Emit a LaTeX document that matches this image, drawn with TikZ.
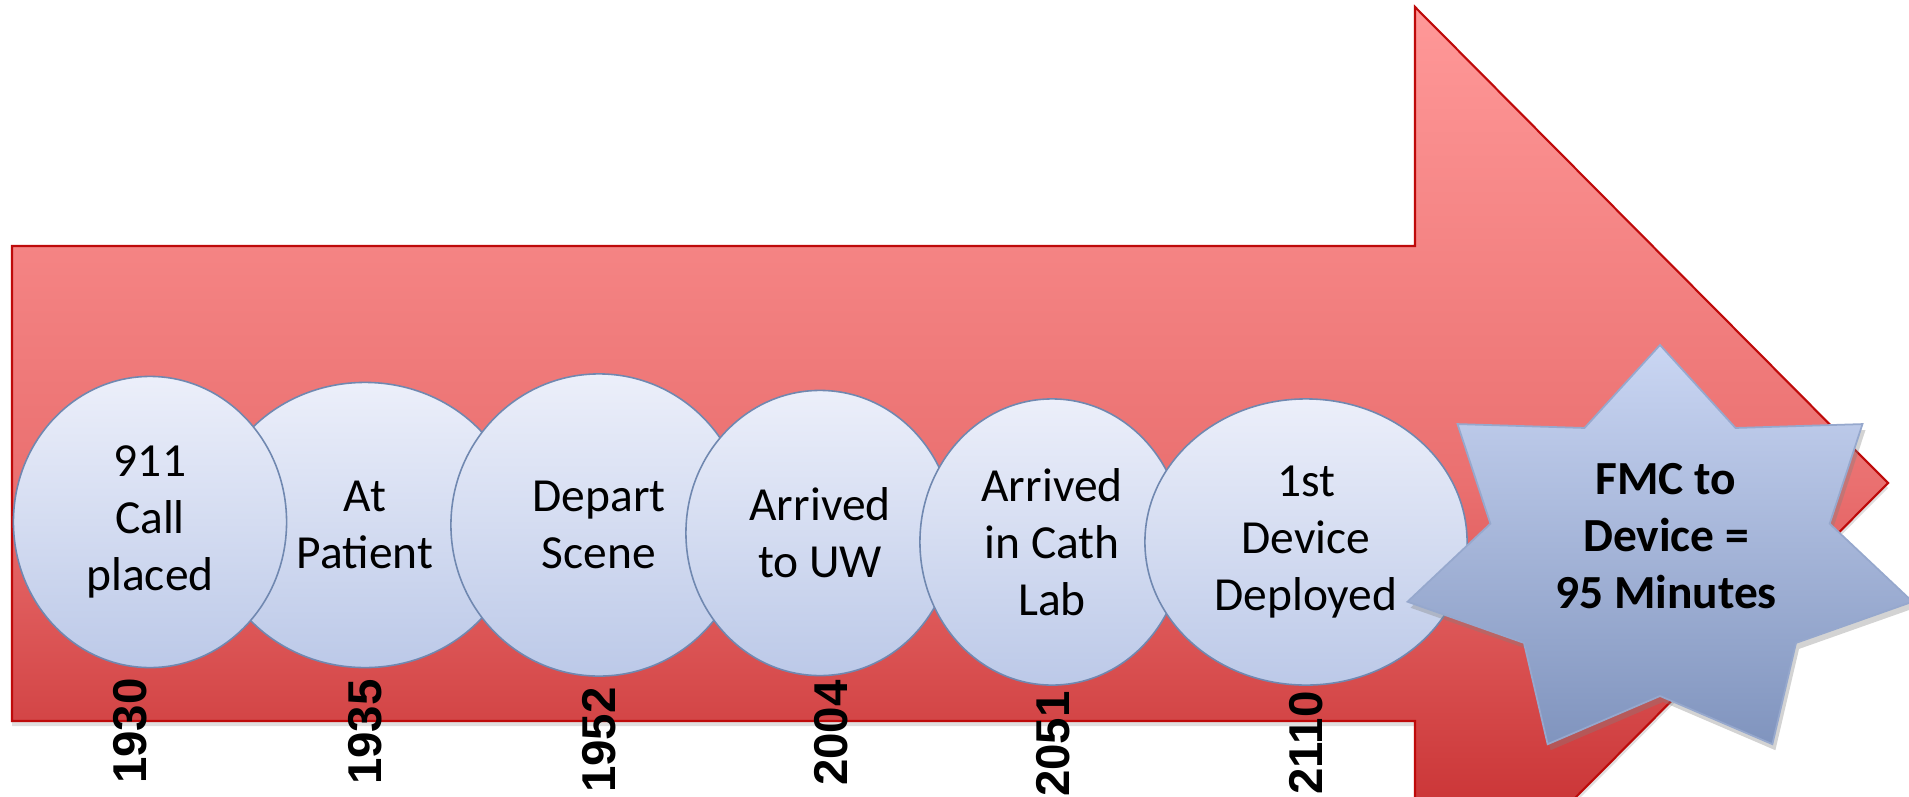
\documentclass[tikz,border=0pt]{standalone}
\usepackage{fontspec}
\setmainfont{Carlito}
\newfontfamily\yearfont{Liberation Sans}
\usepackage{tikz}
\usetikzlibrary{shapes.geometric,shadows}

\begin{document}
\begin{tikzpicture}[x=0.01cm, y=-0.01cm]
  % Colors
  \definecolor{arrtop}{RGB}{255,152,152}
  \definecolor{arrmid}{RGB}{234,112,112}
  \definecolor{arrbot}{RGB}{188,26,28}
  \definecolor{arredge}{RGB}{190,10,10}
  \definecolor{circtop}{RGB}{236,239,250}
  \definecolor{circbot}{RGB}{188,201,232}
  \definecolor{circedge}{RGB}{112,136,176}
  \definecolor{startop}{RGB}{202,214,243}
  \definecolor{starbot}{RGB}{128,148,190}
  \definecolor{staredge}{RGB}{150,168,205}
  %
  \def\u{0.1mm}
  %
  \tikzset{
    arrowbody/.style={draw=arredge, line width=0.6pt, top color=arrtop, bottom color=arrbot,
                 middle color=arrmid, drop shadow={shadow xshift=0pt, shadow yshift=-0.5mm, opacity=0.25}},
    eventcirc/.style={ellipse, draw=circedge, line width=0.45pt, top color=circtop, bottom color=circbot,
                 inner sep=0pt, align=center, font=\fontsize{13.5}{16.2}\selectfont},
    starbox/.style={draw=staredge, line width=0.5pt, top color=startop, bottom color=starbot,
                 drop shadow={shadow xshift=0.3mm, shadow yshift=-0.6mm, opacity=0.35}},
    fmctext/.style={align=center, inner sep=0pt, font=\bfseries\fontsize{13.5}{16.2}\selectfont},
    yearlbl/.style={rotate=90, inner sep=0pt, font=\yearfont\bfseries\fontsize{13.5}{16}\selectfont},
  }
  %
  \useasboundingbox (0,0) rectangle (1909,797);
  \begin{scope}
    \clip (0,0) rectangle (1909,797);
    %
    %%% BIG ARROW %%%
    \draw[arrowbody] (12,246) -- (1415,246) -- (1415,7) -- (1888,483)
      -- (1415,959) -- (1415,721) -- (12,721) -- cycle;
    %
    %%% EVENTS %%%
    % (2 goes first, 1 lies over it)
    \foreach \n/\cx/\cy/\w/\h/\txt in {
      2/365/525/308/285/{At\\Patient},
      1/150/522/273/291/{911\\Call\\placed},
      3/599/525/296/302/{Depart\\Scene},
      4/820/533/268/285/{Arrived\\to UW},
      5/1052/542/264/286/{Arrived\\in Cath\\Lab},
      6/1306/542/322/286/{1st\\Device\\Deployed}%
    } {
      \node[eventcirc, minimum width=\w*\u, minimum height=\h*\u] (ev\n) at (\cx,\cy) {\txt};
    }
    %
    % Times
    \foreach \n/\x/\y/\yr in {
      1/130/731/1930, 2/365/732/1935, 3/599/740/1952,
      4/831/733/2004, 5/1053/744/2051, 6/1306/743/2110%
    } {
      \node[yearlbl] (yr\n) at (\x,\y) {\yr};
    }
    %
    %%% STAR %%%
    \begin{scope}[shift={(1660,555)}]
      \draw[starbox] (-90:259 and 210)
        \foreach \k in {0,...,6} {
          -- ({-90+\k*360/7+180/7}:174 and 141) -- ({-90+(\k+1)*360/7}:259 and 210)
        } -- cycle;
    \end{scope}
    \node[fmctext] (fmc) at (1666,536) {FMC to\\Device =\\95 Minutes};
  \end{scope}
\end{tikzpicture}
\end{document}
